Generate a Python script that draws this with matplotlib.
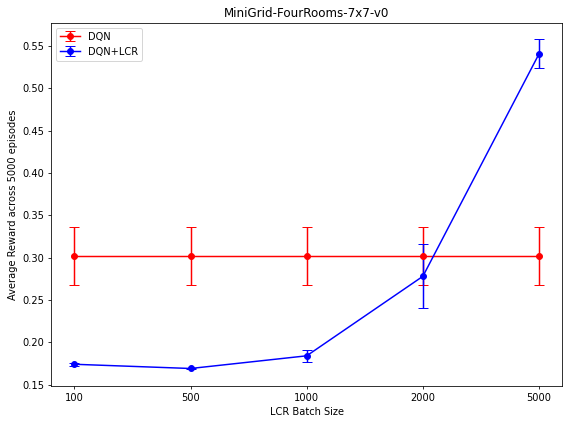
import numpy as np
import matplotlib
matplotlib.use("Agg")
import matplotlib.pyplot as plt

# LCR batch sizes (categorical x axis)
batch_sizes = ["100", "500", "1000", "2000", "5000"]

# DQN baseline (does not depend on batch size)
dqn_mean = [0.302, 0.302, 0.302, 0.302, 0.302]
dqn_err = [0.034, 0.034, 0.034, 0.034, 0.034]

# DQN + LCR
lcr_mean = [0.174, 0.169, 0.184, 0.278, 0.541]
lcr_err = [0.002, 0.001, 0.007, 0.038, 0.017]

x = np.arange(len(batch_sizes))

plt.figure(figsize=(568 / 71, 424 / 71), dpi=71)
plt.errorbar(x, dqn_mean, yerr=dqn_err, color="red", marker="o", capsize=5, label="DQN")
plt.errorbar(x, lcr_mean, yerr=lcr_err, color="blue", marker="o", capsize=5, label="DQN+LCR")
plt.xticks(x, batch_sizes)
plt.xlabel("LCR Batch Size")
plt.ylabel("Average Reward across 5000 episodes")
plt.title("MiniGrid-FourRooms-7x7-v0")
plt.legend(loc="upper left")
plt.subplots_adjust(left=0.09, right=0.99, top=0.946, bottom=0.09)
plt.savefig("out.png", dpi=71)
